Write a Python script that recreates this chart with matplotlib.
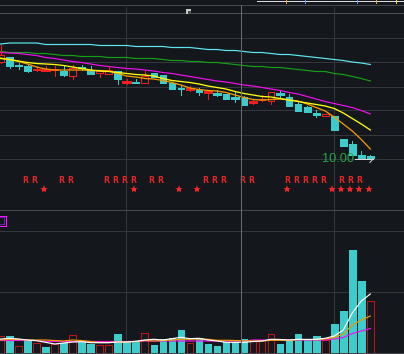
import matplotlib
matplotlib.use('Agg')
import matplotlib.pyplot as plt
from matplotlib.patches import Rectangle
from matplotlib.lines import Line2D
import matplotlib.transforms as mtransforms

# ---------------- data ----------------
opens = [11.94,12.03,11.87,11.85,11.77,11.78,11.77,11.76,11.66,11.83,11.78,11.72,11.70,11.75,11.54,11.54,11.53,11.71,11.68,11.53,11.41,
         11.39,11.38,11.34,11.30,11.30,11.22,11.23,11.14,11.17,11.16,11.30,11.23,11.10,11.03,10.93,10.87,10.86,10.40,10.30,10.08,10.06]
closes = [12.08,11.85,11.85,11.75,11.79,11.79,11.79,11.68,11.81,11.81,11.70,11.76,11.78,11.60,11.55,11.52,11.66,11.63,11.51,11.39,11.39,
          11.40,11.34,11.35,11.29,11.20,11.21,11.08,11.15,11.19,11.33,11.29,11.06,10.96,10.93,10.88,10.89,10.57,10.27,10.08,10.03,10.03]
highs = [12.28,12.04,11.91,11.88,11.85,11.87,11.85,11.85,11.88,11.88,11.85,11.76,11.85,11.75,11.60,11.60,11.76,11.71,11.68,11.53,11.47,
         11.46,11.41,11.36,11.38,11.30,11.35,11.25,11.19,11.27,11.33,11.35,11.30,11.13,11.06,10.98,10.89,10.86,10.40,10.36,10.15,10.08]
lows = [11.92,11.82,11.80,11.74,11.75,11.76,11.66,11.66,11.60,11.77,11.70,11.63,11.70,11.50,11.50,11.51,11.53,11.63,11.51,11.39,11.27,
        11.36,11.29,11.20,11.25,11.20,11.13,11.08,11.10,11.16,11.11,11.23,11.06,10.96,10.93,10.83,10.87,10.57,10.27,10.08,10.03,10.00]

ma5 = [12.01,11.99,11.96,11.93,11.91,11.90,11.89,11.87,11.84,11.81,11.78,11.76,11.75,11.73,11.71,11.69,11.68,11.66,11.61,11.57,11.55,
       11.53,11.50,11.46,11.43,11.40,11.35,11.31,11.28,11.25,11.24,11.21,11.18,11.15,11.12,11.09,11.06,11.01,10.92,10.81,10.70,10.58]
ma10 = [12.02,11.99,11.95,11.90,11.84,11.80,11.78,11.78,11.78,11.78,11.77,11.77,11.76,11.71,11.66,11.64,11.61,11.60,11.57,11.53,11.48,
        11.42,11.39,11.37,11.36,11.33,11.28,11.23,11.19,11.18,11.19,11.20,11.18,11.16,11.10,11.03,10.96,10.84,10.70,10.56,10.39,10.20]
ma20 = [12.13,12.12,12.11,12.09,12.07,12.03,12.01,11.98,11.95,11.93,11.90,11.87,11.85,11.83,11.81,11.80,11.78,11.76,11.73,11.71,11.68,
        11.65,11.62,11.59,11.56,11.54,11.51,11.48,11.46,11.43,11.40,11.37,11.33,11.30,11.25,11.20,11.15,11.11,11.07,11.03,10.97,10.90]
ma60 = [12.15,12.13,12.13,12.13,12.11,12.11,12.09,12.07,12.07,12.05,12.05,12.05,12.03,12.03,12.03,12.01,12.01,12.01,11.99,11.97,11.97,
        11.95,11.95,11.93,11.93,11.91,11.89,11.87,11.85,11.85,11.83,11.83,11.81,11.79,11.77,11.75,11.75,11.71,11.69,11.65,11.61,11.56]
ma120 = [12.30,12.32,12.32,12.32,12.32,12.29,12.29,12.29,12.29,12.29,12.29,12.27,12.27,12.27,12.27,12.25,12.25,12.25,12.25,12.23,12.23,
         12.23,12.21,12.19,12.19,12.17,12.17,12.15,12.13,12.13,12.11,12.09,12.09,12.07,12.05,12.03,12.01,11.99,11.97,11.94,11.92,11.89]

volume = [1700,1700,700,1300,1000,600,900,1000,1800,1200,900,800,800,1900,1100,1100,2000,800,1400,1500,2300,
          1000,1500,900,700,1100,1100,1400,1200,1300,1870,900,1200,1900,1300,1700,1300,2900,4200,10300,7200,5200]
vol_up = [1,0,1,0,1,0,1,0,1,0,0,1,1,0,0,0,1,0,0,0,0,
          1,0,0,0,0,0,0,1,1,1,0,0,0,0,0,1,0,0,0,0,1]
vma5 = [1400,1470,1400,1300,1230,1070,900,1000,1100,1130,1030,1030,1030,1100,1100,1170,1300,1370,1300,1430,1570,
        1430,1470,1300,1200,1070,1070,1070,1150,1200,1370,1350,1300,1370,1350,1370,1470,1700,2300,4000,5200,5900]
vma10 = [1300,1350,1350,1300,1300,1300,1250,1200,1300,1250,1150,1050,1050,1100,1100,1150,1250,1200,1250,1300,1370,
         1370,1400,1370,1270,1270,1250,1230,1200,1200,1270,1270,1270,1330,1350,1330,1400,1550,1900,2800,3300,3700]
vma20 = [1250,1250,1250,1250,1250,1150,1150,1150,1150,1150,1150,1150,1150,1150,1150,1150,1200,1200,1200,1200,1200,
         1200,1200,1200,1200,1200,1200,1200,1300,1300,1300,1300,1300,1300,1300,1300,1300,1400,1550,1950,2200,2450]

r_signals = [3,4,7,8,12,13,14,15,17,18,23,24,25,27,28,32,33,34,35,36,38,39,40]
star_signals = [5,15,20,22,32,37,38,39,40,41]
low_label = "10.00"

# ---------------- style ----------------
BG = '#14171c'
GRID = '#34373c'
CYAN = '#3dcccc'
RED = '#f01e1e'
VRED = '#c01414'
PX = 0.72  # one pixel in points

W, H = 404, 354
fig = plt.figure(figsize=(W / 100, H / 100), dpi=100, facecolor=BG)

def fy(py):
    return 1 - py / H

ax = fig.add_axes([0, fy(210), 1, 205 / H])
axv = fig.add_axes([0, fy(353), 1, 143 / H])
step = 9.02
xl = (-0.5 / step, (W - 0.5) / step)
for a in (ax, axv):
    a.set_facecolor(BG)
    a.set_xlim(*xl)
    a.set_xticks([])
    a.set_yticks([])
    for s in a.spines.values():
        s.set_visible(False)
ax.set_ylim(8.98, 13.08)
axv.set_ylim(0, 14300)

# grid
price_grid = [12.41, 11.93, 11.45, 10.97, 10.47, 9.99]
for g in price_grid:
    ax.axhline(g, color=GRID, lw=PX, zorder=0, antialiased=False)
ax.axhline(12.91, color='#4a4d52', lw=PX, zorder=0, antialiased=False)
for g in [6100, 12200]:
    axv.axhline(g, color=GRID, lw=PX, zorder=0, antialiased=False)
for xg in [13.95, 37.0]:
    ax.axvline(xg, color=GRID, lw=PX, zorder=0, antialiased=False, ymax=0.99)
    axv.axvline(xg, color=GRID, lw=PX, zorder=0, antialiased=False)

# panel border lines (figure level)
for py, c in [(5, '#44474c'), (210.3, '#44474c'), (353, '#44474c')]:
    fig.add_artist(Line2D([0, 1], [fy(py), fy(py)], color=c, lw=PX, antialiased=False))
# cursor line
fig.add_artist(Line2D([241.3 / W, 241.3 / W], [fy(5), 0], color='#6a6d70', lw=PX, antialiased=False, zorder=5))

# candles
bw = 0.74
for i, (o, h, l, c) in enumerate(zip(opens, highs, lows, closes)):
    up = c > o
    col = RED if up else CYAN
    lo, hi = min(o, c), max(o, c)
    if hi - lo < 0.016:
        ax.plot([i, i], [l, h], color=col, lw=PX, antialiased=False, zorder=3)
        ax.plot([i - bw / 2, i + bw / 2], [(o + c) / 2] * 2, color=col, lw=PX * 1.2, antialiased=False, zorder=3)
    elif up:
        ax.plot([i, i], [hi, h], color=col, lw=PX, antialiased=False, zorder=3)
        ax.plot([i, i], [l, lo], color=col, lw=PX, antialiased=False, zorder=3)
        ax.add_patch(Rectangle((i - bw / 2, lo), bw, hi - lo, facecolor=BG, edgecolor=col,
                               lw=PX, antialiased=False, zorder=3))
    else:
        ax.plot([i, i], [l, h], color=col, lw=PX, antialiased=False, zorder=3)
        ax.add_patch(Rectangle((i - bw / 2, lo), bw, hi - lo, facecolor=col, edgecolor=col,
                               lw=PX * 0.5, antialiased=False, zorder=3))

xs = list(range(len(opens)))
ax.plot(xs, ma120, color='#5fe6f0', lw=PX * 1.2, zorder=2)
ax.plot(xs, ma60, color='#14a014', lw=PX * 1.2, zorder=2)
ax.plot(xs, ma20, color='#f010f0', lw=PX * 1.2, zorder=2)
ax.plot(xs, ma10, color='#f09a00', lw=PX * 1.3, zorder=4)
ax.plot(xs, ma5, color='#ffff10', lw=PX * 1.3, zorder=4)

# low label
ax.text(39.15, lows[-1], low_label, color='#22a844', fontsize=9.2, family='Liberation Sans',
        ha='right', va='center', zorder=6)
ax.plot([39.3, 41.3], [lows[-1], lows[-1]], color='#d8d8d8', lw=PX, antialiased=False, zorder=6)
ax.plot([41.3, 40.95], [lows[-1], lows[-1] - 0.07], color='#d8d8d8', lw=PX, zorder=6)

# signals
bt = mtransforms.blended_transform_factory(ax.transData, ax.transAxes)
for i in r_signals:
    ax.text(i - 0.25, (210 - 180.5) / 205, 'R', color='#e42626', fontsize=5.6, fontweight='bold',
            ha='center', va='center', transform=bt, zorder=5)
ax.plot([i - 0.2 for i in star_signals], [(210 - 189) / 205] * len(star_signals), linestyle='none',
        marker='*', markersize=6, color='#f02828', markeredgewidth=0, transform=bt, zorder=5)

# volume
for i, (v, u) in enumerate(zip(volume, vol_up)):
    if u:
        axv.add_patch(Rectangle((i - bw / 2, 0), bw, v, facecolor=BG, edgecolor=VRED,
                                lw=PX, antialiased=False, zorder=3))
    else:
        axv.add_patch(Rectangle((i - bw / 2, 0), bw, v, facecolor=CYAN, edgecolor=CYAN,
                                lw=PX * 0.5, antialiased=False, zorder=3))
axv.plot(xs, vma20, color='#f010f0', lw=PX * 1.2, zorder=4)
axv.plot(xs, vma10, color='#f09a00', lw=PX * 1.2, zorder=4)
axv.plot(xs, vma5, color='#ffffff', lw=PX * 1.2, zorder=4)

# clipped magenta label at volume panel top-left
fig.add_artist(Line2D([0, 5.5 / W, 5.5 / W, 0], [fy(215.5), fy(215.5), fy(225.5), fy(225.5)],
                      color='#ff10ff', lw=PX, antialiased=False))
fig.add_artist(Line2D([0, 4 / W, 4 / W, 0], [fy(217), fy(217), fy(224), fy(224)],
                      color='#6a20b8', lw=PX, antialiased=False))

# top-right scroll bar
fig.add_artist(Line2D([257 / W, 1], [fy(1.2), fy(1.2)], color='#dcdcdc', lw=PX, antialiased=False))
for xm, cm in [(286, '#f0a040'), (305, '#60a0ff'), (357, '#60a0ff'), (376, '#f0a040'), (396, '#f0e040')]:
    fig.add_artist(Line2D([xm / W, xm / W], [fy(0), fy(2.5)], color=cm, lw=PX, antialiased=False))

# small icon near top
fig.add_artist(Rectangle((186 / W, fy(14)), 5 / W, 5 / H, transform=fig.transFigure,
                         facecolor='#c8c8c8', edgecolor='none'))
fig.add_artist(Rectangle((188 / W, fy(14)), 3 / W, 3 / H, transform=fig.transFigure,
                         facecolor='#505050', edgecolor='none'))

fig.savefig('out.png', dpi=100, facecolor=BG)
